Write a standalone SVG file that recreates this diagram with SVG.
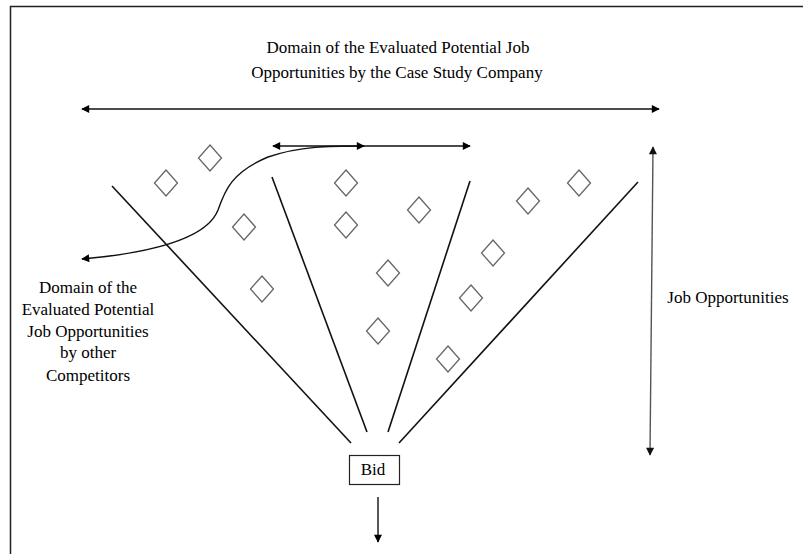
<svg xmlns="http://www.w3.org/2000/svg" width="803" height="554" viewBox="0 0 803 554">
<defs>
<marker id="ah" viewBox="0 0 10 10" refX="9" refY="5" markerWidth="9" markerHeight="8" markerUnits="userSpaceOnUse" orient="auto-start-reverse">
<path d="M0,0 L10,5 L0,10 Z" fill="#000"/>
</marker>
<marker id="ahg" viewBox="0 0 10 10" refX="9" refY="5" markerWidth="9" markerHeight="8" markerUnits="userSpaceOnUse" orient="auto-start-reverse">
<path d="M0,0 L10,5 L0,10 Z" fill="#111"/>
</marker>
</defs>
<style>
.t{font-family:'Liberation Serif','DejaVu Serif',serif;font-size:17px;fill:#000;text-anchor:middle}
.ln{stroke:#111;stroke-width:1.6;fill:none}
.ar{stroke:#111;stroke-width:1.4;fill:none}
.dm{fill:#fff;stroke:#666;stroke-width:1.3}
</style>
<rect width="803" height="554" fill="#fff"/>
<g id="frame">
<path d="M10.5,554 L10.5,6.5 L803,6.5" stroke="#222" stroke-width="1.5" fill="none"/>
</g>
<g id="title">
<text class="t" x="398" y="53">Domain of the Evaluated Potential Job</text>
<text class="t" x="397" y="78">Opportunities by the Case Study Company</text>
</g>
<g id="competitors-label">
<text class="t" x="88" y="293">Domain of the</text>
<text class="t" x="88" y="315">Evaluated Potential</text>
<text class="t" x="88" y="337">Job Opportunities</text>
<text class="t" x="88" y="358">by other</text>
<text class="t" x="88" y="381">Competitors</text>
</g>
<g id="job-opportunities-label">
<text class="t" x="728" y="303">Job Opportunities</text>
</g>
<g id="bid">
<rect x="349.5" y="455.5" width="50" height="29" fill="#fff" stroke="#222" stroke-width="1.2"/>
<text class="t" x="373" y="475">Bid</text>
</g>
<g id="diamonds">
<path class="dm" d="M166,170 l11.5,13 l-11.5,13 l-11.5,-13 Z"/>
<path class="dm" d="M210,145 l11.5,13 l-11.5,13 l-11.5,-13 Z"/>
<path class="dm" d="M244,214 l11.5,13 l-11.5,13 l-11.5,-13 Z"/>
<path class="dm" d="M262,276 l11.5,13 l-11.5,13 l-11.5,-13 Z"/>
<path class="dm" d="M346,170 l11.5,13 l-11.5,13 l-11.5,-13 Z"/>
<path class="dm" d="M346,212 l11.5,13 l-11.5,13 l-11.5,-13 Z"/>
<path class="dm" d="M419,197 l11.5,13 l-11.5,13 l-11.5,-13 Z"/>
<path class="dm" d="M388,260 l11.5,13 l-11.5,13 l-11.5,-13 Z"/>
<path class="dm" d="M378,318 l11.5,13 l-11.5,13 l-11.5,-13 Z"/>
<path class="dm" d="M471,285 l11.5,13 l-11.5,13 l-11.5,-13 Z"/>
<path class="dm" d="M493,240 l11.5,13 l-11.5,13 l-11.5,-13 Z"/>
<path class="dm" d="M528,188 l11.5,13 l-11.5,13 l-11.5,-13 Z"/>
<path class="dm" d="M579,170 l11.5,13 l-11.5,13 l-11.5,-13 Z"/>
<path class="dm" d="M448,346 l11.5,13 l-11.5,13 l-11.5,-13 Z"/>
</g>
<g id="connectors">
<line class="ln" x1="112" y1="186" x2="351" y2="443"/>
<line class="ln" x1="272" y1="177" x2="367" y2="432"/>
<line class="ln" x1="470" y1="181" x2="388" y2="432"/>
<line class="ln" x1="638" y1="182" x2="399" y2="443"/>
<line class="ar" x1="82" y1="109" x2="659" y2="109" marker-start="url(#ah)" marker-end="url(#ah)"/>
<line class="ar" x1="273" y1="146" x2="470" y2="146" marker-start="url(#ah)" marker-end="url(#ah)"/>
<path class="ar" d="M82,259 C160,252 208,236 218,210 C225,190 232,172 268,157 C300,146 330,146 364,146" marker-start="url(#ah)" marker-end="url(#ah)"/>
<line x1="653" y1="147" x2="650" y2="455" stroke="#555" stroke-width="1.4" marker-start="url(#ahg)" marker-end="url(#ahg)"/>
<line class="ar" x1="378" y1="497" x2="378" y2="542" marker-end="url(#ah)"/>
</g>
</svg>
